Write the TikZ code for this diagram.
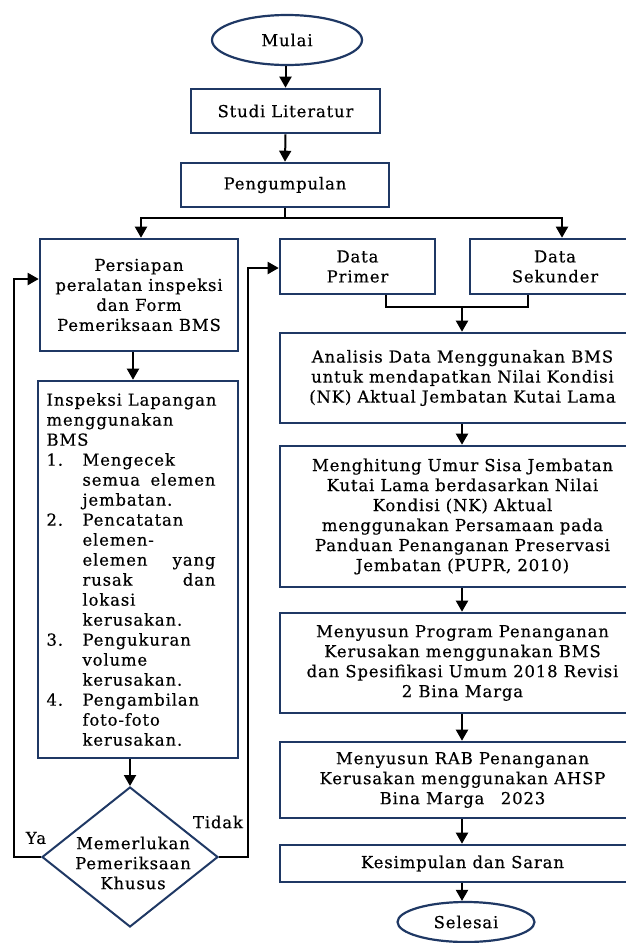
\documentclass[tikz,border=0pt]{standalone}
\usepackage{fontspec}
\setmainfont{DejaVu Serif}[LetterSpace=5,FakeBold=0.4]
\usetikzlibrary{shapes.geometric,arrows.meta}
\definecolor{navy}{RGB}{31,56,100}
\newcommand\myfs{\fontsize{16.5}{20}\selectfont}
\newcommand\itm[2]{\makebox[36pt][l]{#1}#2}
\newcommand\jst[2]{\makebox[133pt][s]{#1\hfill #2}}
\begin{document}
\begin{tikzpicture}[x=1pt,y=-1pt,
  box/.style={draw=navy,line width=2.6pt,rectangle,inner sep=0pt,align=center,font=\myfs},
  oval/.style={draw=navy,line width=2.2pt,ellipse,inner sep=0pt,font=\myfs},
  conn/.style={draw=black,line width=2pt},
  arr/.style={conn,-{Triangle[length=11pt,width=12pt]}},
  lbl/.style={font=\myfs,inner sep=0pt}]
\useasboundingbox (0,0) rectangle (626,943);
\clip (0,0) rectangle (626,943);
% main column
\node[oval,minimum width=150pt,minimum height=50pt] (mulai) at (287,40) {Mulai};
\node[box,minimum width=189pt,minimum height=44pt] (studi) at (285.5,111) {Studi Literatur};
\node[box,minimum width=208pt,minimum height=44pt] (peng) at (285,185) {Pengumpulan};
% left column
\node[box,minimum width=198pt,minimum height=112pt] (pers) at (139,295) {Persiapan\\peralatan inspeksi\\dan Form\\Pemeriksaan BMS};
\node[box,minimum width=200pt,minimum height=377pt] (insp) at (138,569.5) {\begin{minipage}{170pt}\myfs\raggedright
Inspeksi Lapangan\\
menggunakan\\
BMS\\
\itm{1.}{Mengecek}\\
\itm{}{\jst{semua}{elemen}}\\
\itm{}{jembatan.}\\
\itm{2.}{Pencatatan}\\
\itm{}{elemen-}\\
\itm{}{\jst{elemen}{yang}}\\
\itm{}{\jst{rusak}{dan}}\\
\itm{}{lokasi}\\
\itm{}{kerusakan.}\\
\itm{3.}{Pengukuran}\\
\itm{}{volume}\\
\itm{}{kerusakan.}\\
\itm{4.}{Pengambilan}\\
\itm{}{foto-foto}\\
\itm{}{kerusakan.}
\end{minipage}\hspace*{13pt}};
\node[draw=navy,line width=2pt,diamond,aspect=1.257,minimum width=176pt,minimum height=140pt,inner sep=0pt] (dia) at (130,857) {};
\node[lbl,align=center] (diatxt) at (133,863) {Memerlukan\\Pemeriksaan\\Khusus};
\node[lbl] (ya) at (36,838) {Ya};
\node[lbl] (tidak) at (218,822) {Tidak};
% right column
\node[box,minimum width=155pt,minimum height=55pt] (primer) at (357.5,266.5) {Data\\Primer};
\node[box,minimum width=170pt,minimum height=55pt] (sekunder) at (555,266.5) {Data\\Sekunder};
\node[box,minimum width=365pt,minimum height=90pt] (anal) at (462.5,378) {Analisis Data Menggunakan BMS\\untuk mendapatkan Nilai Kondisi\\(NK) Aktual Jembatan Kutai Lama};
\node[box,minimum width=365pt,minimum height=141pt] (hitung) at (462.5,516.5) {Menghitung Umur Sisa Jembatan\\Kutai Lama berdasarkan Nilai\\Kondisi (NK) Aktual\\menggunakan Persamaan pada\\Panduan Penanganan Preservasi\\Jembatan (PUPR, 2010)};
\node[box,minimum width=365pt,minimum height=100pt] (prog) at (462.5,663) {Menyusun Program Penanganan\\Kerusakan menggunakan BMS\\dan Spesifikasi Umum 2018 Revisi\\2 Bina Marga};
\node[box,minimum width=365pt,minimum height=76pt] (rab) at (462.5,780) {Menyusun RAB Penanganan\\Kerusakan menggunakan AHSP\\Bina Marga\quad 2023};
\node[box,minimum width=365pt,minimum height=37pt] (kes) at (462.5,863.5) {Kesimpulan dan Saran};
\node[oval,minimum width=137pt,minimum height=40pt] (selesai) at (466,922) {Selesai};
% connectors
\coordinate (br) at (285,218);
\coordinate (jn) at (462,307);
\coordinate (yaturn) at (14,279);
\coordinate (tdturn) at (248,268);
\draw[arr] (mulai.south -| studi.north) -- (studi.north);
\draw[arr] (studi.south) -- (peng.south |- peng.north);
\draw[conn] (peng.south) -- (br);
\draw[arr] (br) -| ([xshift=2pt]pers.north);
\draw[arr] (br) -| ([xshift=7pt]sekunder.north);
\draw[arr] ([xshift=-6pt]pers.south) -- ([xshift=-5pt]insp.north);
\draw[arr] (insp.south -| dia.north) -- (dia.north);
\draw[arr] (dia.west) -| (yaturn) -- (yaturn -| pers.west);
\draw[arr] (dia.east) -| (tdturn) -- (tdturn -| primer.west);
\draw[conn] ([xshift=28.5pt]primer.south) |- (jn) -| ([xshift=-27pt]sekunder.south);
\draw[arr] (jn) -- (jn |- anal.north);
\draw[arr] (jn |- anal.south) -- (jn |- hitung.north);
\draw[arr] (jn |- hitung.south) -- (jn |- prog.north);
\draw[arr] (jn |- prog.south) -- (jn |- rab.north);
\draw[arr] (jn |- rab.south) -- (jn |- kes.north);
\draw[arr] (jn |- kes.south) -- (jn |- selesai.north);
\end{tikzpicture}
\end{document}
